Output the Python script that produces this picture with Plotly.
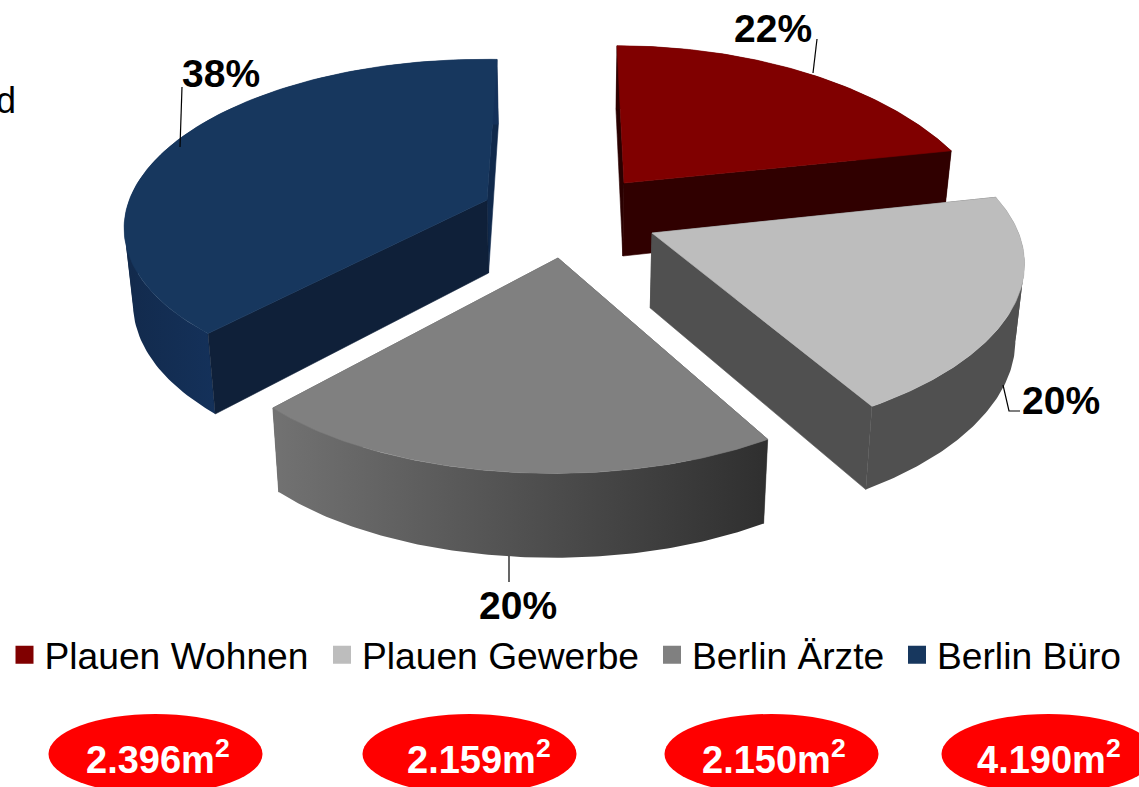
import numpy as np
import plotly.graph_objects as go

categories = ["Plauen Wohnen", "Plauen Gewerbe", "Berlin Ärzte", "Berlin Büro"]
areas = [2396, 2159, 2150, 4190]
area_labels = ["2.396m<sup>2</sup>", "2.159m<sup>2</sup>", "2.150m<sup>2</sup>", "4.190m<sup>2</sup>"]
share_labels = ["22%", "20%", "20%", "38%"]
top_colors = ["#800000", "#bdbdbd", "#808080", "#17375e"]

# projection of each exploded slice of the tilted pie
views = [
    dict(ax=624, ay=183, rx=355, ry=182, k=.326, sx=-7, sy=0, bx=0, by=0, d0=73, dk=40,
         wall=("#300000", "#300000"), hidden="#2a0000", front="#300000"),
    dict(ax=652, ay=233, rx=364, ry=165, k=.213, sx=0, sy=-6, bx=0, by=0, d0=75, dk=36,
         wall=("#505050", "#505050"), hidden="#505050", front="#505050"),
    dict(ax=558, ay=258, rx=343, ry=163, k=.25, sx=7, sy=0, bx=0, by=-2, d0=83, dk=4,
         wall=("#727272", "#2f2f2f"), hidden="#555555", front=None),
    dict(ax=487, ay=200, rx=367, ry=160, k=.138, sx=10, sy=0, bx=12, by=-4, d0=73, dk=65,
         wall=("#122a4c", "#14315a"), hidden="#10294b", front="#0f2039"),
]
VX = 565
PAINT_ORDER = [3, 0, 1, 2]
edges = np.concatenate([[0], np.cumsum(areas)]) / sum(areas) * 2 * np.pi
# radial side facing the viewer, per slice
FRONT_EDGE = {0: 1, 1: 1, 3: 0}


def rim(i, th):
    v = views[i]
    t0, t1 = edges[i], edges[i + 1]
    s = 1 / (1 + v["k"] * np.cos(th))
    bulge = np.sin(np.pi * (th - t0) / (t1 - t0))
    return (v["ax"] + v["rx"] * np.sin(th) * s + v["sx"] * np.cos(th) + v["bx"] * bulge,
            v["ay"] - v["ry"] * np.cos(th) * s + v["sy"] * np.sin(th) + v["by"] * bulge, s)


def drop(v, x, y, s):
    return x + (VX - x) * .02, y + v["d0"] + v["dk"] * (s - 1)


def poly(fig, xs, ys, color, name):
    fig.add_trace(go.Scatter(x=list(xs), y=list(ys), mode="lines", fill="toself", fillcolor=color,
                             line=dict(color=color, width=.6), showlegend=False, hoverinfo="skip", name=name))


def radial(fig, i, th, color):
    v = views[i]
    ax2, ay2 = drop(v, v["ax"], v["ay"], 1.0)
    x, y, s = rim(i, th)
    xb, yb = drop(v, x, y, s)
    poly(fig, [v["ax"], x, xb, ax2, v["ax"]], [v["ay"], y, yb, ay2, v["ay"]], color, categories[i])


fig = go.Figure()

for i in PAINT_ORDER:
    v = views[i]
    t0, t1 = edges[i], edges[i + 1]
    name = categories[i]
    # hidden radial side(s)
    for e in (0, 1):
        if FRONT_EDGE.get(i) != e:
            radial(fig, i, edges[i + e], v["hidden"])
    # outer wall, horizontal gradient, split where the rim turns back in x
    ths = np.linspace(t0, t1, 120)
    px, py, ps = rim(i, ths)
    bx, by = drop(v, px, py, ps)
    cut = sorted({0, int(np.argmin(px)), int(np.argmax(px)), len(ths) - 1})
    for a, b in zip(cut[:-1], cut[1:]):
        wx = np.r_[px[a:b + 1], bx[a:b + 1][::-1], px[a]]
        wy = np.r_[py[a:b + 1], by[a:b + 1][::-1], py[a]]
        fig.add_trace(go.Scatter(x=wx, y=wy, mode="lines", fill="toself", line=dict(width=0), name=name,
                                 fillgradient=dict(type="horizontal",
                                                   colorscale=[[0, v["wall"][0]], [1, v["wall"][1]]]),
                                 showlegend=False, hoverinfo="skip"))
    # radial side facing the viewer
    if i in FRONT_EDGE:
        radial(fig, i, edges[i + FRONT_EDGE[i]], v["front"])
    # top face
    poly(fig, np.r_[v["ax"], px, v["ax"]], np.r_[v["ay"], py, v["ay"]], top_colors[i], name)

# leader lines
leaders = [([813, 817], [73, 39]), ([1003, 1009, 1020], [385, 411, 411]), ([509, 509], [556, 582]), ([180, 182], [147, 87])]
for lx, ly in leaders:
    fig.add_trace(go.Scatter(x=lx, y=ly, mode="lines", line=dict(color="black", width=1.2), showlegend=False, hoverinfo="skip"))

FONT = "Liberation Sans"
legend_ids = ["legend", "legend2", "legend3", "legend4"]
legend_left = [4.5, 322, 652, 897]
legends = {}
for name, col, lid, left in zip(categories, top_colors, legend_ids, legend_left):
    fig.add_trace(go.Scatter(x=[None], y=[None], mode="markers", name=name, legend=lid,
                             marker=dict(symbol="square", size=16, color=col, line=dict(color=col, width=2))))
    legends[lid] = dict(x=left / 1139, y=1 - 624 / 787, xanchor="left", yanchor="top",
                        bgcolor="rgba(0,0,0,0)", itemsizing="trace",
                        font=dict(family=FONT, size=37.2, color="black"))

label_pos = [(773, 28), (1061, 400), (518, 605), (221, 73)]
annots = [dict(x=x, y=y, text="<b>%s</b>" % t, showarrow=False, font=dict(family=FONT, size=39, color="black"))
          for (x, y), t in zip(label_pos, share_labels)]
annots.append(dict(x=0, y=100, text="d", xanchor="left", xshift=-6, showarrow=False, font=dict(family=FONT, size=36, color="black")))

oval_x = [155.5, 469.5, 771.5, 1048.5]
shapes = [dict(type="circle", xref="x", yref="y", x0=x - 107, x1=x + 107, y0=714, y1=794,
               fillcolor="#ff0000", line=dict(width=0), layer="above") for x in oval_x]
text_x = [158, 479, 774, 1049]
annots += [dict(x=x, y=757, text="<b>%s</b>" % t, showarrow=False, font=dict(family=FONT, size=38, color="white"))
           for x, t in zip(text_x, area_labels)]

fig.update_layout(
    width=1139, height=787, autosize=False,
    margin=dict(l=0, r=0, t=0, b=0), paper_bgcolor="white", plot_bgcolor="white",
    xaxis=dict(range=[0, 1139], visible=False, fixedrange=True),
    yaxis=dict(range=[787, 0], visible=False, fixedrange=True),
    shapes=shapes, annotations=annots, **legends,
)
fig.write_html("out.html", config=dict(displayModeBar=False),
               post_script="document.body.style.margin='0';document.body.style.overflow='hidden';")
